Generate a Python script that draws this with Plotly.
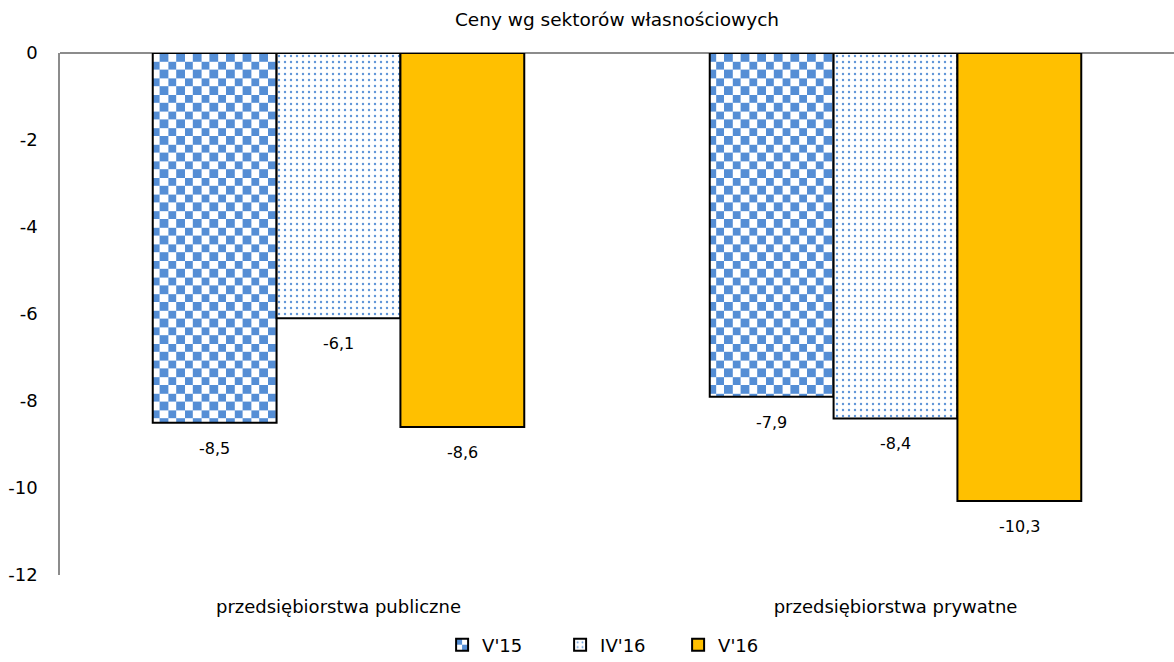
import plotly.graph_objects as go

# Price changes by ownership sector (%)
categories = ["przedsiębiorstwa publiczne", "przedsiębiorstwa prywatne"]
series_names = ["V'15", "IV'16", "V'16"]
v15 = [-8.5, -7.9]
iv16 = [-6.1, -8.4]
v16 = [-8.6, -10.3]
y_ticks = [0, -2, -4, -6, -8, -10, -12]

FONT = "DejaVu Sans"
BLUE = "#558ED5"
GOLD = "#FFC000"
AXIS_GREY = "#8C8C8C"
BARGAP = 0.333

x_pos = list(range(len(categories)))
bar_line = dict(color="#000000", width=2)

fig = go.Figure()

fig.add_trace(go.Bar(
    name=series_names[0], x=x_pos, y=v15,
    marker=dict(color="#ffffff", line=bar_line,
                pattern=dict(shape="+", fgcolor=BLUE, fgopacity=1,
                             size=16, solidity=0.5)),
))
fig.add_trace(go.Bar(
    name=series_names[1], x=x_pos, y=iv16,
    marker=dict(color="#ffffff", line=bar_line,
                pattern=dict(shape=".", fgcolor=BLUE, fgopacity=0.95,
                             size=6, solidity=0.12)),
))
fig.add_trace(go.Bar(
    name=series_names[2], x=x_pos, y=v16,
    marker=dict(color=GOLD, line=bar_line),
))

# value labels under each bar end (decimal comma)
bar_w = (1 - BARGAP) / len(series_names)
for j, vals in enumerate([v15, iv16, v16]):
    for i, v in enumerate(vals):
        fig.add_annotation(
            x=i + (j - (len(series_names) - 1) / 2) * bar_w, y=v,
            xref="x", yref="y", yanchor="top", yshift=-14,
            text=f"{v:.1f}".replace(".", ","), showarrow=False,
            font=dict(family=FONT, size=16, color="#000000"),
        )

fig.update_layout(
    width=1174, height=662,
    margin=dict(l=60, r=0, t=53, b=87, autoexpand=False),
    paper_bgcolor="#ffffff", plot_bgcolor="#ffffff",
    barmode="group", bargap=BARGAP, bargroupgap=0,
    font=dict(family=FONT, size=18, color="#000000"),
    title=dict(text="Ceny wg sektorów własnościowych",
               font=dict(family=FONT, size=18.5, color="#000000"),
               x=0.5, xref="paper", xanchor="center",
               y=1 - 20 / 662, yref="container", yanchor="middle"),
    showlegend=True,
    legend=dict(orientation="h", x=0.343, xanchor="left",
                y=17 / 662, yref="container", yanchor="middle",
                entrywidth=73, traceorder="normal",
                font=dict(family=FONT, size=18, color="#000000")),
    xaxis=dict(range=[-0.5, len(categories) - 0.5],
               tickvals=x_pos, ticktext=categories,
               showline=False, showgrid=False, zeroline=False,
               ticks="", ticklabelstandoff=19,
               tickfont=dict(family=FONT, size=18, color="#000000")),
    yaxis=dict(range=[-12, 0], tickvals=y_ticks,
               ticktext=[str(t) for t in y_ticks],
               showgrid=False, showline=True, linecolor=AXIS_GREY, linewidth=1.5,
               zeroline=True, zerolinecolor=AXIS_GREY, zerolinewidth=1.5,
               ticks="", ticklabelstandoff=17,
               tickfont=dict(family=FONT, size=18, color="#000000")),
)

# turn the V'15 "+" tiles into a checkerboard fill
checker_js = """
var gd = document.getElementById('{plot_id}');
var ns = 'http://www.w3.org/2000/svg';
var tile = 16.6, half = tile / 2;
gd.querySelectorAll('pattern').forEach(function (p) {
    if (!p.querySelector('path')) return;
    p.setAttribute('width', tile + 'px');
    p.setAttribute('height', tile + 'px');
    while (p.firstChild) p.removeChild(p.firstChild);
    var bg = document.createElementNS(ns, 'rect');
    bg.setAttribute('width', tile);
    bg.setAttribute('height', tile);
    bg.setAttribute('fill', '#ffffff');
    p.appendChild(bg);
    var sq = document.createElementNS(ns, 'path');
    sq.setAttribute('d', 'M0,0H' + half + 'V' + half + 'H0Z' +
                         'M' + half + ',' + half + 'H' + tile + 'V' + tile + 'H' + half + 'Z');
    sq.setAttribute('fill', 'BLUE_FILL');
    sq.setAttribute('shape-rendering', 'crispEdges');
    p.appendChild(sq);
});
""".replace("BLUE_FILL", BLUE)

fig.write_html("out.html", post_script=checker_js)
